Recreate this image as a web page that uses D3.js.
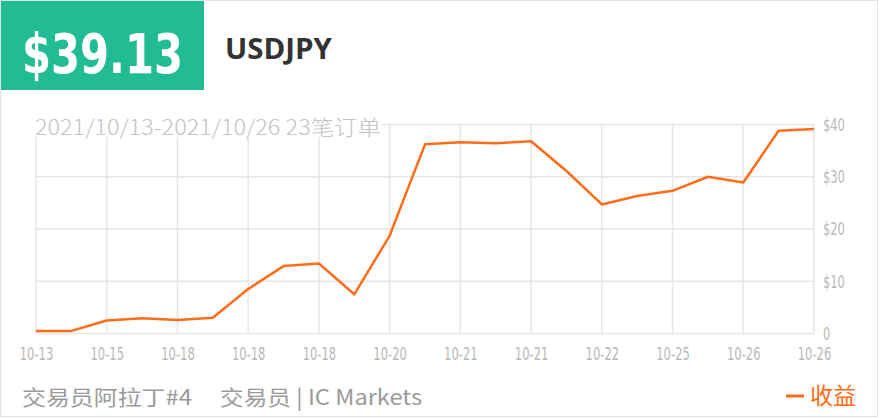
<!DOCTYPE html>
<html>
<head>
<meta charset="utf-8">
<script src="https://cdn.jsdelivr.net/npm/d3@7"></script>
<style>
  body { margin: 0; background: #fff; }
  svg text { font-family: "Noto Sans CJK SC", "Noto Sans", sans-serif; }
</style>
</head>
<body>
<div id="chart"></div>
<script>
var svgWidth = 880;
var svgHeight = 419;

// one point per order, dates on the x axis
var dates = ["10-13", "10-14", "10-15", "10-15", "10-18", "10-18", "10-18", "10-18",
  "10-18", "10-19", "10-20", "10-20", "10-21", "10-21", "10-21", "10-22",
  "10-22", "10-22", "10-25", "10-25", "10-26", "10-26", "10-26"];
var profit = [0.5, 0.5, 2.5, 2.9, 2.6, 3.0, 8.5, 12.9, 13.4, 7.5, 18.7, 36.2,
  36.6, 36.4, 36.8, 31.1, 24.7, 26.3, 27.3, 30.0, 28.9, 38.8, 39.13];
var yTicks = [0, 10, 20, 30, 40];

var totalLabel = "$39.13";
var symbol = "USDJPY";
var subtitle = "2021/10/13-2021/10/26 23笔订单";
var trader = "交易员阿拉丁#4";
var source = "交易员 | IC Markets";
var seriesName = "收益";

var margin = { top: 124.5, right: 66, bottom: 85.5, left: 36 };
var width = 814 - margin.left;
var height = 333.5 - margin.top;

var condensed = "'DejaVu Sans Condensed', 'DejaVu Sans', sans-serif";

// rough width of a narrow tick label, so it can be squeezed to fit
function narrowWidth(s, size) {
  var w = 0;
  for (var c of s) w += (c === "-" ? 0.273 : 0.456);
  return w * size;
}

var svg = d3.select("#chart")
  .append("svg")
  .attr("width", svgWidth)
  .attr("height", svgHeight);

// card border
svg.append("rect")
  .attr("x", 0.5).attr("y", 0.5)
  .attr("width", 877).attr("height", 416)
  .attr("fill", "#fff")
  .attr("stroke", "#e3e3e3");

// green total box
svg.append("rect")
  .attr("x", 1).attr("y", 1)
  .attr("width", 203).attr("height", 89)
  .attr("fill", "#21bc94");

svg.append("text")
  .attr("x", 22).attr("y", 73)
  .style("font-family", condensed)
  .style("font-stretch", "condensed")
  .attr("font-weight", "bold")
  .attr("font-size", 56)
  .attr("fill", "#fff")
  .attr("textLength", 161)
  .attr("lengthAdjust", "spacingAndGlyphs")
  .text(totalLabel);

svg.append("text")
  .attr("x", 225).attr("y", 59)
  .attr("font-weight", "bold")
  .attr("font-size", 28)
  .attr("fill", "#333")
  .style("font-family", "'Open Sans', sans-serif")
  .attr("textLength", 107)
  .attr("lengthAdjust", "spacingAndGlyphs")
  .text(symbol);

var chartGroup = svg.append("g")
  .attr("transform", `translate(${margin.left}, ${margin.top})`);

var xScale = d3.scalePoint()
  .domain(d3.range(dates.length))
  .range([0, width]);

var yScale = d3.scaleLinear()
  .domain([0, 40])
  .range([height, 0]);

// grid
var xTickIdx = d3.range(0, dates.length, 2);
chartGroup.append("g")
  .selectAll("line")
  .data(xTickIdx)
  .enter()
  .append("line")
  .attr("x1", d => xScale(d)).attr("x2", d => xScale(d))
  .attr("y1", 0).attr("y2", height)
  .attr("stroke", "#e6e6e6")
  .attr("stroke-width", 1.5);

chartGroup.append("g")
  .selectAll("line")
  .data(yTicks)
  .enter()
  .append("line")
  .attr("x1", 0).attr("x2", width)
  .attr("y1", d => yScale(d)).attr("y2", d => yScale(d))
  .attr("stroke", "#e6e6e6")
  .attr("stroke-width", 1.5);

// axes
var bottomAxis = d3.axisBottom(xScale)
  .tickValues(xTickIdx)
  .tickSize(0)
  .tickPadding(13)
  .tickFormat(i => dates[i]);

var rightAxis = d3.axisRight(yScale)
  .tickValues(yTicks)
  .tickSize(0)
  .tickPadding(9)
  .tickFormat(d => d === 0 ? "0" : "$" + d);

var xAxisG = chartGroup.append("g")
  .attr("transform", `translate(0, ${height})`)
  .call(bottomAxis);

var yAxisG = chartGroup.append("g")
  .attr("transform", `translate(${width}, 0)`)
  .call(rightAxis);

[xAxisG, yAxisG].forEach(function(g) {
  g.select(".domain").remove();
  g.selectAll("text")
    .style("font-family", condensed)
    .attr("font-size", 17)
    .attr("fill", "#b8b8b8")
    .attr("lengthAdjust", "spacingAndGlyphs")
    .attr("textLength", function() { return narrowWidth(this.textContent, 16); });
});
yAxisG.selectAll("text").attr("dy", "0.35em");
xAxisG.selectAll("text").attr("dy", "0.8em");

// subtitle sits over the top of the grid on a white patch
svg.append("rect")
  .attr("x", 33).attr("y", 112)
  .attr("width", 349).attr("height", 25)
  .attr("fill", "#fff");

svg.append("text")
  .attr("x", 35).attr("y", 135)
  .attr("font-size", 21)
  .attr("font-weight", 300)
  .attr("fill", "#c4c4c4")
  .attr("textLength", 346)
  .attr("lengthAdjust", "spacingAndGlyphs")
  .text(subtitle);

// profit line
var line = d3.line()
  .x((d, i) => xScale(i))
  .y(d => yScale(d));

chartGroup.append("path")
  .datum(profit)
  .attr("d", line)
  .attr("fill", "none")
  .attr("stroke", "#ff6d1a")
  .attr("stroke-width", 2.5)
  .attr("stroke-linejoin", "round");

// footer
svg.append("text")
  .attr("x", 22).attr("y", 405)
  .attr("font-size", 21)
  .attr("fill", "#9a9a9a")
  .attr("textLength", 170)
  .attr("lengthAdjust", "spacingAndGlyphs")
  .text(trader);

svg.append("text")
  .attr("x", 220).attr("y", 405)
  .attr("font-size", 21)
  .attr("fill", "#9a9a9a")
  .attr("textLength", 202)
  .attr("lengthAdjust", "spacingAndGlyphs")
  .text(source);

svg.append("line")
  .attr("x1", 786).attr("x2", 804)
  .attr("y1", 396).attr("y2", 396)
  .attr("stroke", "#ff6d1a")
  .attr("stroke-width", 3);

svg.append("text")
  .attr("x", 810).attr("y", 404)
  .attr("font-size", 23)
  .attr("fill", "#ff6d1a")
  .text(seriesName);
</script>
</body>
</html>
